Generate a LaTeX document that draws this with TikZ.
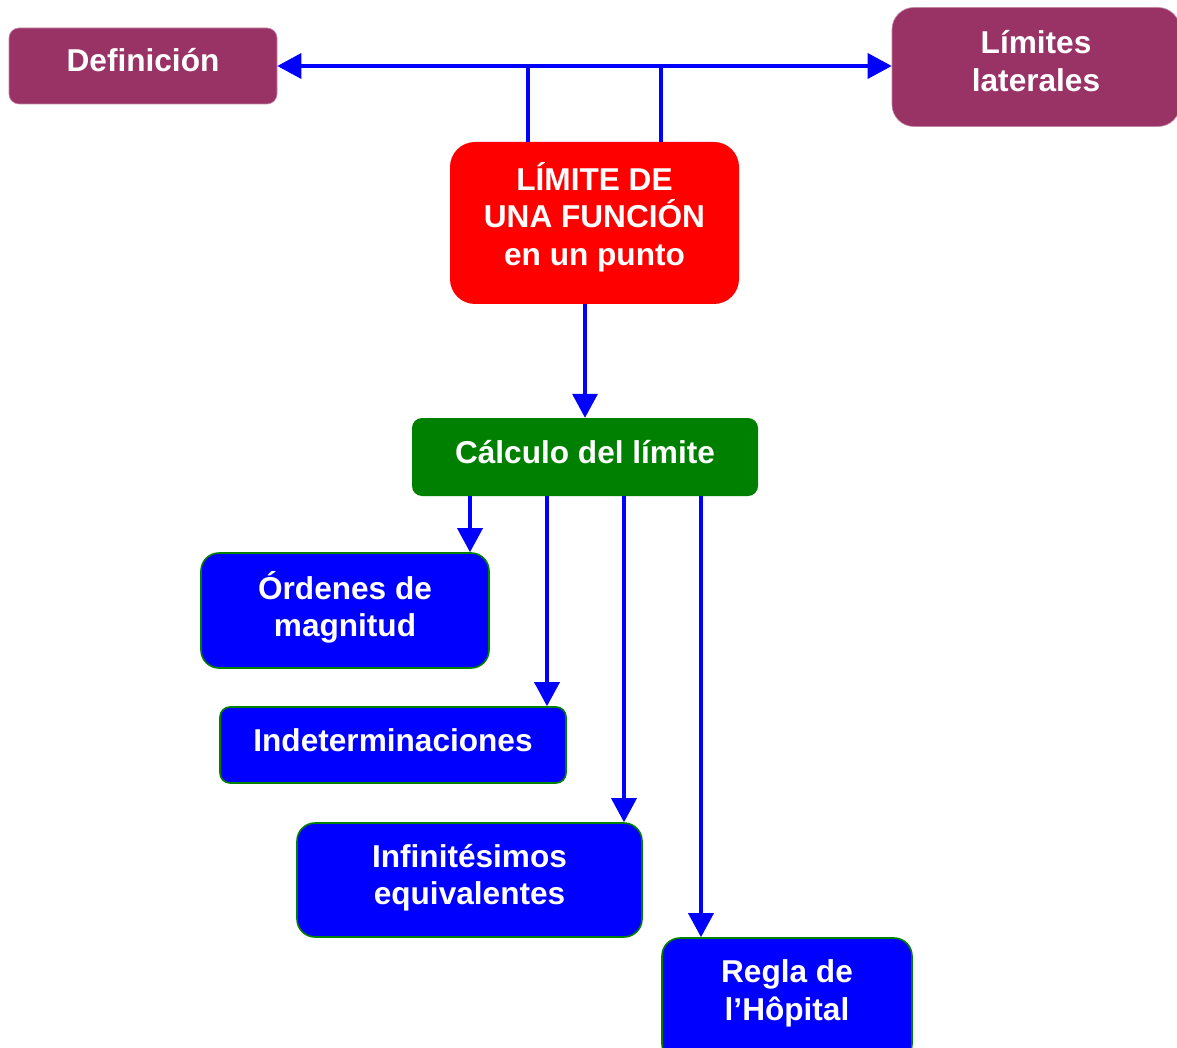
\documentclass[tikz,border=0pt]{standalone}
\usepackage{fontspec}
\setmainfont{Liberation Sans}
\usetikzlibrary{arrows.meta}
\definecolor{plum}{HTML}{993366}
\definecolor{pred}{HTML}{FF0000}
\definecolor{pgreen}{HTML}{008000}
\definecolor{pblue}{HTML}{0000FF}
\tikzset{
  box/.style={rectangle, inner sep=0pt},
  txt/.style={text=white, align=center, inner sep=0pt,
    font=\bfseries\fontsize{31.6}{37.5}\selectfont},
  plumbox/.style={box, fill=plum, draw=plum!60, line width=0.6pt},
  redbox/.style={box, fill=pred, rounded corners=25pt},
  greenbox/.style={box, fill=pgreen, rounded corners=10pt},
  bluebox/.style={box, fill=pblue, draw=pgreen, line width=1.6pt},
  conn/.style={draw=pblue, line width=3.5pt},
  arr/.style={conn, -{Triangle[length=24pt,width=25pt]}},
  darr/.style={conn, {Triangle[length=24pt,width=25pt]}-{Triangle[length=24pt,width=25pt]}},
}
\begin{document}
\begin{tikzpicture}[x=1pt,y=-1pt]
\useasboundingbox (0,0) rectangle (1177,1048);
\node[plumbox, rounded corners=10pt, minimum width=268pt, minimum height=76pt] (def) at (143,66) {};
\node[txt, yshift=6pt] (deft) at (def) {Definición};
\node[plumbox, rounded corners=22pt, minimum width=288pt, minimum height=119pt] (lim) at (1036,67) {};
\node[txt, yshift=6pt] (limt) at (lim) {Límites\\laterales};
\node[redbox, minimum width=289pt, minimum height=162pt] (red) at (594.5,223) {};
\node[txt, yshift=6pt] (redt) at (red) {LÍMITE DE\\UNA FUNCIÓN\\en un punto};
\node[greenbox, minimum width=346pt, minimum height=78pt] (calc) at (585,457) {};
\node[txt, yshift=5pt] (calct) at (calc) {Cálculo del límite};
\node[bluebox, rounded corners=18pt, minimum width=288pt, minimum height=115pt] (ord) at (345,610.5) {};
\node[txt, yshift=3pt] (ordt) at (ord) {Órdenes de\\magnitud};
\node[bluebox, rounded corners=10pt, minimum width=346pt, minimum height=76pt] (ind) at (393,745) {};
\node[txt, yshift=5pt] (indt) at (ind) {Indeterminaciones};
\node[bluebox, rounded corners=18pt, minimum width=345pt, minimum height=114pt] (inf) at (469.5,880) {};
\node[txt, yshift=2.5pt] (inft) at (inf) {Infinitésimos\\equivalentes};
\node[bluebox, rounded corners=18pt, minimum width=250pt, minimum height=124pt] (reg) at (787,1000) {};
\node[txt, yshift=6.5pt] (regt) at (reg) {Regla de\\l’Hôpital};

\draw[darr] (def.east) -- (def.east -| lim.west);
\draw[conn] ([xshift=-66.5pt]red.north) -- ([xshift=-66.5pt]red.north |- def.east);
\draw[conn] ([xshift=66.5pt]red.north) -- ([xshift=66.5pt]red.north |- def.east);
\draw[arr] (calc.north |- red.south) -- (calc.north);
\draw[arr] ([xshift=-115pt]calc.south) -- ([xshift=-115pt]calc.south |- ord.north);
\draw[arr] ([xshift=-38pt]calc.south) -- ([xshift=-38pt]calc.south |- ind.north);
\draw[arr] ([xshift=39pt]calc.south) -- ([xshift=39pt]calc.south |- inf.north);
\draw[arr] ([xshift=116pt]calc.south) -- ([xshift=116pt]calc.south |- reg.north);
\end{tikzpicture}
\end{document}
